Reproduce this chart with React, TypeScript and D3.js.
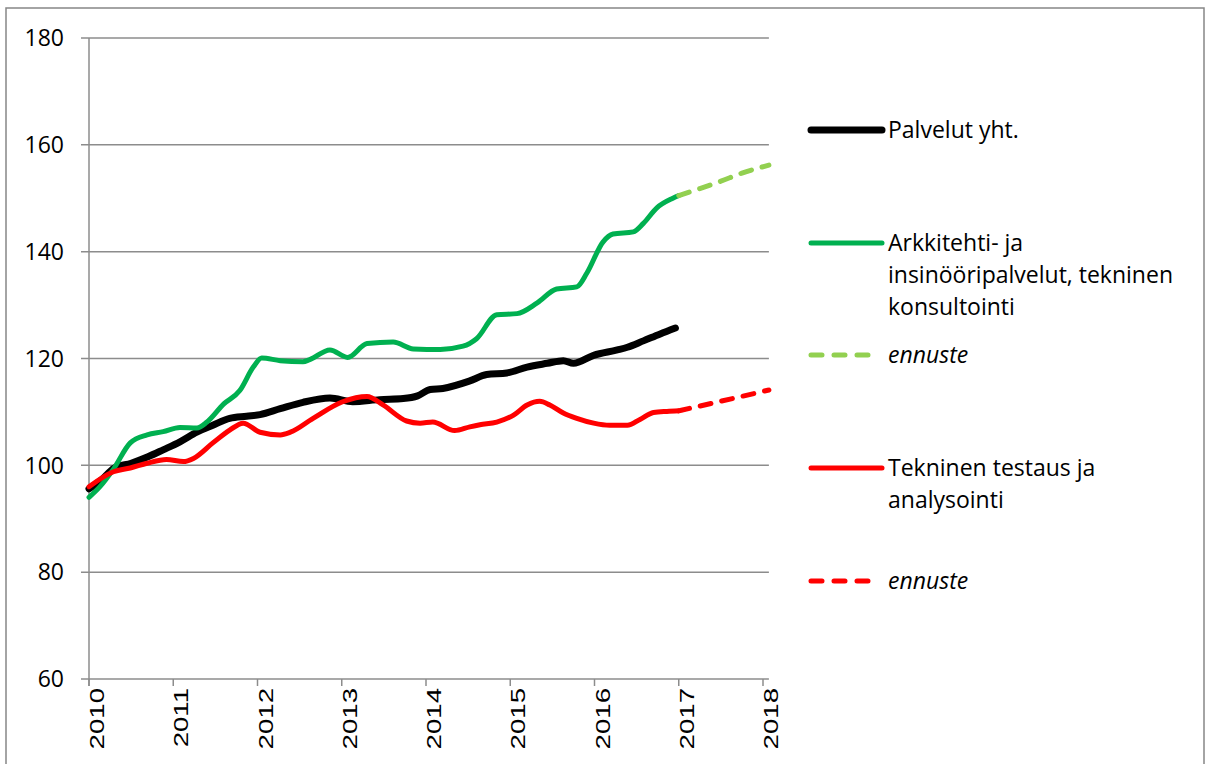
import { line, curveMonotoneX, scaleLinear } from "d3";
import React from "react";

// Palvelut yht. (black)
const servicesYears = [2010.0, 2010.15, 2010.3, 2010.5, 2010.7, 2010.88, 2011.08, 2011.28, 2011.47, 2011.67, 2011.87, 2012.03, 2012.27, 2012.54, 2012.86, 2013.13, 2013.45, 2013.73, 2013.9, 2014.05, 2014.2, 2014.52, 2014.72, 2014.96, 2015.2, 2015.44, 2015.63, 2015.75, 2015.99, 2016.27, 2016.39, 2016.58, 2016.78, 2016.96];
const servicesValues = [95.6, 97.3, 99.5, 100.4, 101.6, 102.9, 104.4, 106.2, 107.5, 108.8, 109.2, 109.5, 110.6, 111.8, 112.6, 111.9, 112.3, 112.5, 113, 114.2, 114.4, 115.8, 117, 117.3, 118.4, 119.1, 119.6, 119.1, 120.6, 121.6, 122.1, 123.3, 124.6, 125.7];

// Arkkitehti- ja insinööripalvelut (green)
const archYears = [2010.0, 2010.13, 2010.29, 2010.49, 2010.69, 2010.88, 2011.08, 2011.28, 2011.4, 2011.6, 2011.79, 2011.95, 2012.05, 2012.27, 2012.54, 2012.62, 2012.86, 2013.07, 2013.3, 2013.61, 2013.85, 2014.17, 2014.44, 2014.6, 2014.84, 2015.08, 2015.32, 2015.55, 2015.79, 2015.91, 2016.1, 2016.22, 2016.46, 2016.58, 2016.74, 2016.93, 2017.0];
const archValues = [94, 96, 99.3, 104.2, 105.7, 106.3, 107.1, 107, 108.1, 111.5, 114, 118.4, 120.1, 119.6, 119.4, 119.8, 121.6, 120.2, 122.8, 123.1, 121.8, 121.7, 122.3, 123.7, 128.2, 128.4, 130.4, 133, 133.4, 136, 141.8, 143.3, 143.7, 145.3, 148.2, 150, 150.5];
const archForecastYears = [2017.0, 2017.25, 2017.5, 2017.75, 2018.07];
const archForecastValues = [150.5, 151.8, 153.2, 154.7, 156.2];

// Tekninen testaus ja analysointi (red)
const testYears = [2010.0, 2010.29, 2010.49, 2010.69, 2010.92, 2011.12, 2011.24, 2011.47, 2011.67, 2011.83, 2012.03, 2012.27, 2012.39, 2012.66, 2013.01, 2013.3, 2013.49, 2013.77, 2013.93, 2014.08, 2014.34, 2014.52, 2014.64, 2014.84, 2015.04, 2015.2, 2015.35, 2015.47, 2015.63, 2015.79, 2015.99, 2016.18, 2016.39, 2016.54, 2016.7, 2016.86, 2017.0];
const testValues = [96, 98.8, 99.5, 100.4, 101.1, 100.7, 101.3, 104.2, 106.6, 107.9, 106.2, 105.7, 106.2, 108.8, 111.9, 112.9, 111.3, 108.3, 107.9, 108.1, 106.5, 107.2, 107.6, 108.1, 109.4, 111.3, 112, 111.3, 109.8, 108.8, 107.9, 107.5, 107.5, 108.6, 109.9, 110.1, 110.2];
const testForecastYears = [2017.0, 2017.5, 2018.07];
const testForecastValues = [110.2, 112.0, 114.1];

const yTicks = [60, 80, 100, 120, 140, 160, 180];
const xTicks = [2010, 2011, 2012, 2013, 2014, 2015, 2016, 2017, 2018];

const legendItems = [
	{ lines: ["Palvelut yht."], color: "#000000", width: 7, dashed: false, italic: false, y: 130 },
	{ lines: ["Arkkitehti- ja", "insinööripalvelut, tekninen", "konsultointi"], color: "#00b050", width: 5, dashed: false, italic: false, y: 243 },
	{ lines: ["ennuste"], color: "#92d050", width: 5, dashed: true, italic: true, y: 355 },
	{ lines: ["Tekninen testaus ja", "analysointi"], color: "#ff0000", width: 5, dashed: false, italic: false, y: 468 },
	{ lines: ["ennuste"], color: "#ff0000", width: 5, dashed: true, italic: true, y: 581 },
];

const W = 1205;
const H = 764;
const plot = { left: 89, top: 38, bottom: 679 };
const axisColor = "#8c8c8c";
const font = "'Open Sans', sans-serif";

export default function App() {
	const x = scaleLinear().domain([2010, 2018]).range([plot.left, 763]);
	const xEnd = x(2018.07);
	const y = scaleLinear().domain([60, 180]).range([plot.bottom, plot.top]);

	const path = (xs: number[], vs: number[]) =>
		line<number>()
			.x((_, i) => x(xs[i]))
			.y((v) => y(v))
			.curve(curveMonotoneX)(vs) || "";

	const series = [
		{ d: path(servicesYears, servicesValues), color: "#000000", width: 7, dashed: false },
		{ d: path(archYears, archValues), color: "#00b050", width: 5, dashed: false },
		{ d: path(archForecastYears, archForecastValues), color: "#92d050", width: 5, dashed: true },
		{ d: path(testYears, testValues), color: "#ff0000", width: 5, dashed: false },
		{ d: path(testForecastYears, testForecastValues), color: "#ff0000", width: 5, dashed: true },
	];

	return (
		<svg
			width={W}
			height={H}
			style={{ position: "fixed", left: 0, top: 0, background: "#fff" }}
			fontFamily={font}>
			<rect x={6} y={8} width={1198} height={H} fill="#fff" stroke="#868686" strokeWidth={1.5} />

			{/* gridlines */}
			{yTicks.map((t) => (
				<g key={t}>
					<line x1={plot.left - 8} x2={xEnd} y1={y(t)} y2={y(t)} stroke={axisColor} strokeWidth={1.5} />
					<text x={64} y={y(t)} dy="0.36em" textAnchor="end" fontSize={23} fill="#000">
						{t}
					</text>
				</g>
			))}

			{/* y axis */}
			<line x1={plot.left} x2={plot.left} y1={plot.top} y2={plot.bottom + 7} stroke={axisColor} strokeWidth={1.5} />

			{/* x ticks and labels */}
			{xTicks.map((t) => (
				<g key={t}>
					<line x1={x(t)} x2={x(t)} y1={plot.bottom} y2={plot.bottom + 7} stroke={axisColor} strokeWidth={1.5} />
					<text
						transform={`translate(${x(t) + 15}, ${plot.bottom + 9}) rotate(-90) scale(1.38, 1)`}
						textAnchor="end"
						fontSize={20}
						fontFamily="'Liberation Sans', Arial, sans-serif"
						fill="#000">
						{t}
					</text>
				</g>
			))}

			{/* series */}
			{series.map((s, i) => (
				<path
					key={i}
					d={s.d}
					fill="none"
					stroke={s.color}
					strokeWidth={s.width}
					strokeLinecap="round"
					strokeLinejoin="round"
					strokeDasharray={s.dashed ? "11 11" : undefined}
				/>
			))}

			{/* legend */}
			{legendItems.map((item, i) => (
				<g key={i}>
					<line
						x1={811}
						x2={item.dashed ? 873 : 882}
						y1={item.y}
						y2={item.y}
						stroke={item.color}
						strokeWidth={item.width}
						strokeLinecap="round"
						strokeDasharray={item.dashed ? "11 12" : undefined}
					/>
					{item.lines.map((l, j) => (
						<text
							key={j}
							x={888}
							y={item.y + j * 32}
							dy="0.36em"
							fontSize={23}
							fontStyle={item.italic ? "italic" : "normal"}
							fill="#000">
							{l}
						</text>
					))}
				</g>
			))}
		</svg>
	);
}
